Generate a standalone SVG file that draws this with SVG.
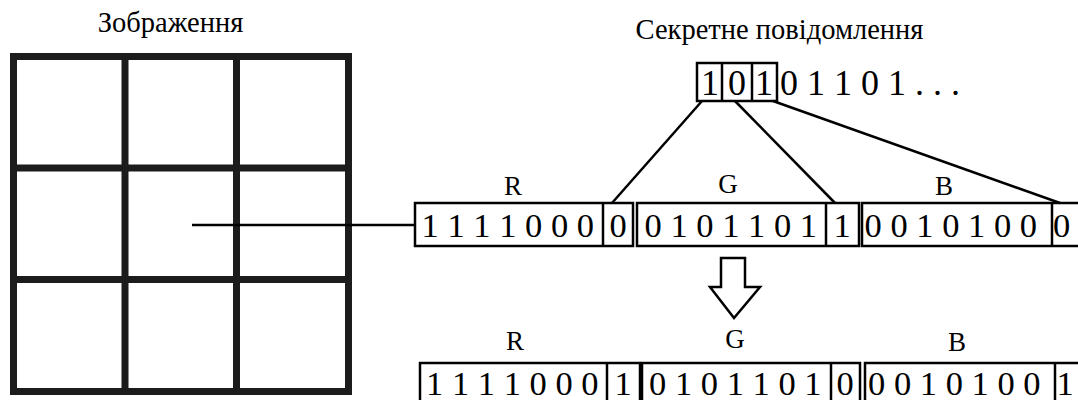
<svg xmlns="http://www.w3.org/2000/svg" width="1078" height="400" viewBox="0 0 1078 400" font-family="'Liberation Serif', 'DejaVu Serif', serif">
<style>
text{font-family:'Liberation Serif','DejaVu Serif',serif;fill:#000}
.lbl{font-size:27px;text-anchor:middle}
.ttl{font-size:28.5px;text-anchor:middle}
.bits{font-size:34.5px}
.big{font-size:36px}
.c{text-anchor:middle}
.box{fill:none;stroke:#000;stroke-width:2.5}
.grid{fill:none;stroke:#1c1c1c;stroke-width:7}
.ln{stroke:#000;stroke-width:2.5;fill:none}
</style>
<rect width="1078" height="400" fill="#fff"/>
<g id="image">
<text class="ttl" x="170.5" y="32">Зображення</text>
<rect class="grid" x="13.5" y="56.5" width="335" height="335"/>
<line class="grid" x1="125" y1="56.5" x2="125" y2="391.5"/>
<line class="grid" x1="236.5" y1="56.5" x2="236.5" y2="391.5"/>
<line class="grid" x1="13.5" y1="168" x2="348.5" y2="168"/>
<line class="grid" x1="13.5" y1="279.5" x2="348.5" y2="279.5"/>
</g>
<g id="secret">
<text class="ttl" x="779.5" y="39">Секретне повідомлення</text>
<rect class="box" x="697" y="63" width="80" height="38"/>
<line class="box" x1="722" y1="63" x2="722" y2="101"/>
<line class="box" x1="752" y1="63" x2="752" y2="101"/>
<text class="big c" x="710" y="95">1</text>
<text class="big c" x="737" y="95">0</text>
<text class="big c" x="764" y="95">1</text>
<text class="big" x="780" y="95">0 1 1 0 1 . . .</text>
</g>
<g id="rgb-before">
<text class="lbl" x="513" y="195">R</text>
<text class="lbl" x="728" y="193">G</text>
<text class="lbl" x="944" y="195">B</text>
<rect class="box" x="415" y="203" width="218" height="43"/>
<line class="box" x1="603" y1="203" x2="603" y2="246"/>
<rect class="box" x="637" y="203" width="222" height="43"/>
<line class="box" x1="826" y1="203" x2="826" y2="246"/>
<rect class="box" x="862" y="203" width="230" height="43"/>
<line class="box" x1="1052" y1="203" x2="1052" y2="246"/>
<text class="bits" x="421.5" y="237">1 1 1 1 0 0 0</text>
<text class="bits c" x="618" y="237">0</text>
<text class="bits" x="644.5" y="237">0 1 0 1 1 0 1</text>
<text class="bits c" x="842" y="237">1</text>
<text class="bits" x="864.5" y="237">0 0 1 0 1 0 0</text>
<text class="bits c" x="1061.5" y="237">0</text>
</g>
<g id="arrow">
<path class="ln" d="M721,258 H745 V287 H760 L734,318 L710,287 H721 Z" stroke-width="2" stroke-linejoin="miter"/>
</g>
<g id="rgb-after">
<text class="lbl" x="515" y="350">R</text>
<text class="lbl" x="735" y="348">G</text>
<text class="lbl" x="957" y="351">B</text>
<rect class="box" x="420" y="363" width="220" height="45"/>
<line class="box" x1="607" y1="363" x2="607" y2="408"/>
<rect class="box" x="642" y="363" width="218" height="45"/>
<line class="box" x1="831" y1="363" x2="831" y2="408"/>
<rect class="box" x="865" y="363" width="230" height="45"/>
<line class="box" x1="1055" y1="363" x2="1055" y2="408"/>
<text class="bits" x="426" y="395">1 1 1 1 0 0 0</text>
<text class="bits c" x="623" y="395">1</text>
<text class="bits" x="649" y="395">0 1 0 1 1 0 1</text>
<text class="bits c" x="845" y="395">0</text>
<text class="bits" x="868" y="395">0 0 1 0 1 0 0</text>
<text class="bits c" x="1065" y="395">1</text>
</g>
<g id="connectors">
<line class="ln" x1="192" y1="225" x2="415" y2="225" stroke-width="2.2"/>
<line class="ln" x1="702" y1="101" x2="612" y2="203"/>
<line class="ln" x1="735" y1="101" x2="835" y2="203"/>
<line class="ln" x1="773" y1="101" x2="1060" y2="203"/>
</g>
</svg>
